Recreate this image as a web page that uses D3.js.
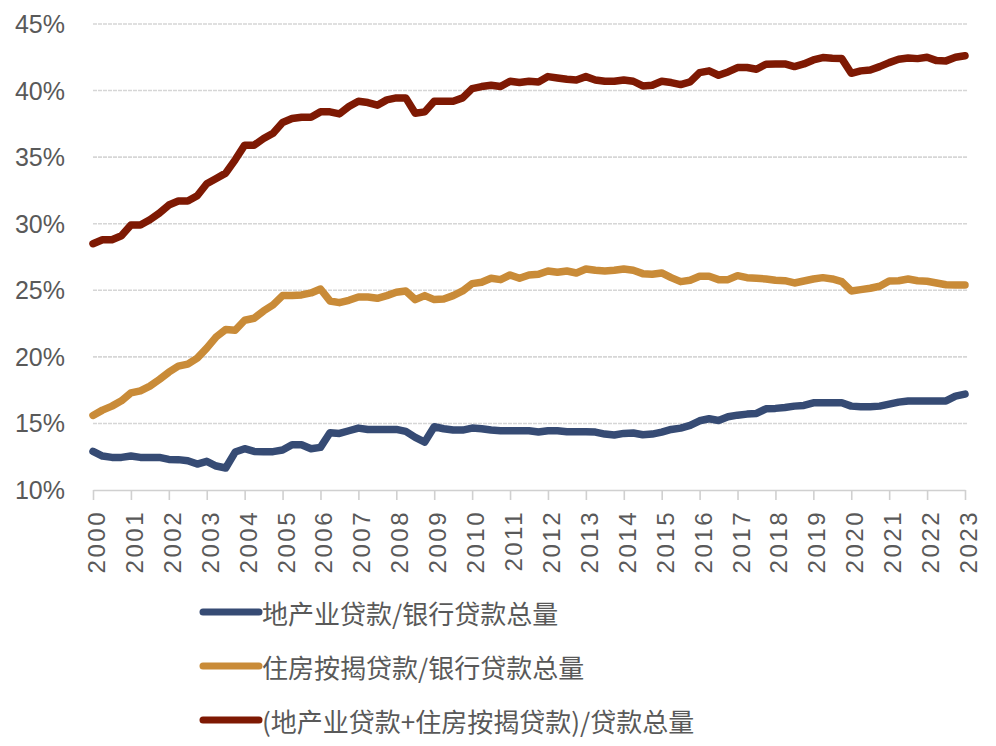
<!DOCTYPE html>
<html>
<head>
<meta charset="utf-8">
<script src="https://cdn.jsdelivr.net/npm/d3@7"></script>
<style>
html,body{margin:0;padding:0;background:#fff;}
svg{display:block;}
</style>
</head>
<body>
<svg id="chart" width="996" height="746"></svg>
<script>
// ---- data (quarterly, 2000Q1 .. 2023Q1), percent ----
const startYear = 2000;
const yearTicks = ["2000","2001","2002","2003","2004","2005","2006","2007","2008","2009","2010","2011","2012","2013","2014","2015","2016","2017","2018","2019","2020","2021","2022","2023"];
const yTicks = [10,15,20,25,30,35,40,45];
const seriesNames = ["地产业贷款/银行贷款总量","住房按揭贷款/银行贷款总量","(地产业贷款+住房按揭贷款)/贷款总量"];
const seriesColors = ["#364B74","#C98B38","#7E1903"];

const realEstate = [
12.9,12.55,12.45,12.45, 12.55,12.45,12.45,12.45, 12.3,12.28,12.2,11.95, 12.15,11.8,11.65,12.85,
13.1,12.9,12.88,12.88, 13.0,13.4,13.4,13.1, 13.2,14.3,14.25,14.45, 14.65,14.55,14.55,14.55,
14.55,14.4,13.95,13.6, 14.75,14.6,14.5,14.5, 14.65,14.6,14.5,14.45, 14.45,14.45,14.45,14.35,
14.45,14.45,14.38,14.38, 14.38,14.35,14.2,14.13, 14.25,14.28,14.15,14.2, 14.35,14.55,14.65,14.85,
15.2,15.35,15.22,15.5, 15.62,15.7,15.75,16.1, 16.13,16.2,16.3,16.35, 16.55,16.56,16.56,16.56,
16.3,16.26,16.26,16.3, 16.45,16.6,16.69,16.69, 16.69,16.69,16.69,17.05, 17.2];

const mortgage = [
15.6,16.0,16.3,16.7, 17.3,17.45,17.8,18.3, 18.85,19.3,19.45,19.9, 20.65,21.5,22.05,22.0,
22.75,22.9,23.45,23.9, 24.6,24.6,24.65,24.8, 25.1,24.2,24.07,24.25, 24.5,24.5,24.4,24.6,
24.85,24.95,24.3,24.6, 24.3,24.35,24.6,24.95, 25.5,25.6,25.9,25.8, 26.15,25.9,26.15,26.2,
26.45,26.35,26.45,26.3, 26.6,26.5,26.45,26.5, 26.6,26.5,26.25,26.2, 26.3,25.95,25.65,25.75,
26.05,26.05,25.8,25.8, 26.1,25.95,25.9,25.85, 25.75,25.72,25.55,25.7, 25.85,25.95,25.85,25.65,
24.95,25.05,25.15,25.3, 25.7,25.72,25.85,25.72, 25.68,25.55,25.42,25.4, 25.4];

const combined = [
28.5,28.8,28.8,29.1, 29.9,29.9,30.3,30.8, 31.4,31.7,31.7,32.1, 33.0,33.4,33.8,34.8,
35.9,35.9,36.4,36.8, 37.6,37.9,38.0,38.0, 38.4,38.4,38.25,38.8, 39.2,39.1,38.9,39.3,
39.45,39.45,38.3,38.4, 39.2,39.2,39.2,39.45, 40.15,40.3,40.4,40.3, 40.7,40.6,40.7,40.65,
41.05,40.95,40.85,40.8, 41.05,40.8,40.7,40.7, 40.8,40.7,40.35,40.4, 40.7,40.6,40.45,40.65,
41.35,41.48,41.15,41.4, 41.73,41.73,41.6,41.98, 42.0,42.0,41.8,42.0, 42.3,42.48,42.42,42.4,
41.3,41.48,41.55,41.8, 42.1,42.35,42.45,42.4, 42.5,42.25,42.23,42.5, 42.62];

// ---- layout ----
const svg = d3.select("#chart");
const plotLeft = 93, plotRight = 965, plotTop = 24, plotBottom = 490;

const x = d3.scaleLinear().domain([2000, 2023]).range([plotLeft, plotRight]);
const y = d3.scaleLinear().domain([10, 45]).range([plotBottom, plotTop]);

const gray = "#595959";

// gridlines
svg.append("g").selectAll("line")
  .data(yTicks.filter(d => d !== 10))
  .join("line")
  .attr("x1", plotLeft).attr("x2", plotRight + 2)
  .attr("y1", d => y(d)).attr("y2", d => y(d))
  .attr("stroke", "#d6d6d6").attr("stroke-width", 1.6)
  .attr("stroke-dasharray", "4,1");

// y labels
svg.append("g").selectAll("text")
  .data(yTicks)
  .join("text")
  .attr("x", 65).attr("y", d => y(d))
  .attr("text-anchor", "end").attr("dominant-baseline", "central")
  .attr("font-family", "Liberation Sans, Arial, sans-serif")
  .attr("font-size", 25).attr("fill", gray)
  .text(d => d + "%");

// x axis
const xAxis = d3.axisBottom(x)
  .tickValues(yearTicks.map(Number))
  .tickFormat(d3.format("d"))
  .tickSize(10).tickSizeOuter(0);
const gx = svg.append("g").attr("transform", `translate(0,${plotBottom})`).call(xAxis);
gx.select(".domain").attr("stroke", "#d0d0d0").attr("stroke-width", 1.6);
gx.selectAll(".tick line").attr("stroke", "#d0d0d0").attr("stroke-width", 1.6);
gx.selectAll(".tick text")
  .attr("font-family", "Liberation Sans, Arial, sans-serif")
  .attr("font-size", 24).attr("fill", gray)
  .attr("letter-spacing", "2.5px")
  .attr("text-anchor", "end")
  .attr("dominant-baseline", "central")
  .attr("transform", "translate(3,20) rotate(-90)")
  .attr("x", 0).attr("y", 0).attr("dy", null);

// lines
const allSeries = [realEstate, mortgage, combined];
const line = d3.line()
  .x((d, i) => x(startYear + i / 4))
  .y(d => y(d));

svg.append("g").selectAll("path")
  .data(allSeries)
  .join("path")
  .attr("d", d => line(d))
  .attr("fill", "none")
  .attr("stroke", (d, i) => seriesColors[i])
  .attr("stroke-width", 7.5)
  .attr("stroke-linejoin", "round")
  .attr("stroke-linecap", "round");

// legend
const legendY = [612, 666, 720];
const lg = svg.append("g").selectAll("g")
  .data(seriesNames)
  .join("g")
  .attr("transform", (d, i) => `translate(0,${legendY[i]})`);
lg.append("line")
  .attr("x1", 203).attr("x2", 259).attr("y1", 0).attr("y2", 0)
  .attr("stroke", (d, i) => seriesColors[i])
  .attr("stroke-width", 7).attr("stroke-linecap", "round");
lg.append("text")
  .attr("x", 262).attr("y", 0)
  .attr("dominant-baseline", "central")
  .attr("font-family", "Noto Sans CJK SC, sans-serif")
  .attr("font-size", 26).attr("fill", gray)
  .text(d => d);
</script>
</body>
</html>
